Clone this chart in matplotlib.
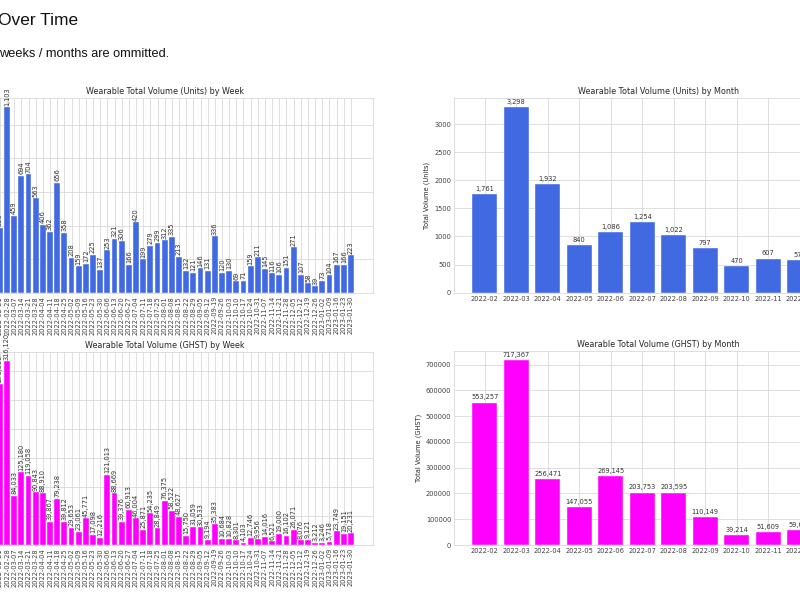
import matplotlib
matplotlib.use("Agg")
import matplotlib.pyplot as plt
from matplotlib.ticker import MultipleLocator
import seaborn as sns

sns.set_style("whitegrid")

# weekly data (first week only partly visible in the crop)
weeks = ["2022-02-21", "2022-02-28", "2022-03-07", "2022-03-14", "2022-03-21", "2022-03-28",
         "2022-04-04", "2022-04-11", "2022-04-18", "2022-04-25", "2022-05-02", "2022-05-09",
         "2022-05-16", "2022-05-23", "2022-05-30", "2022-06-06", "2022-06-13", "2022-06-20",
         "2022-06-27", "2022-07-04", "2022-07-11", "2022-07-18", "2022-07-25", "2022-08-01",
         "2022-08-08", "2022-08-15", "2022-08-22", "2022-08-29", "2022-09-05", "2022-09-12",
         "2022-09-19", "2022-09-26", "2022-10-03", "2022-10-10", "2022-10-17", "2022-10-24",
         "2022-10-31", "2022-11-07", "2022-11-14", "2022-11-21", "2022-11-28", "2022-12-05",
         "2022-12-12", "2022-12-19", "2022-12-26", "2023-01-02", "2023-01-09", "2023-01-16",
         "2023-01-23", "2023-01-30"]
weekly_units = [386, 1103, 459, 694, 704, 563, 406, 362, 656, 358, 208, 159, 172, 225, 137,
                253, 321, 306, 166, 420, 199, 279, 299, 312, 335, 213, 132, 121, 146, 131,
                336, 120, 130, 69, 71, 159, 211, 145, 116, 106, 151, 271, 107, 58, 39, 73,
                104, 167, 166, 223]
weekly_ghst = [276900, 316120, 84033, 125180, 119058, 90843, 88910, 39867, 79238, 39812,
               29653, 23061, 45771, 17098, 12216, 121013, 88669, 39376, 60913, 46004,
               25871, 54235, 28849, 76375, 58522, 48627, 15750, 31059, 30533, 9194, 35383,
               10684, 10828, 8301, 4103, 12746, 9956, 14016, 6521, 19000, 16102, 26071,
               8076, 9121, 3212, 3246, 5718, 23749, 19151, 20231]

# monthly data (later months fall outside the crop)
months = ["2022-02", "2022-03", "2022-04", "2022-05", "2022-06", "2022-07", "2022-08",
          "2022-09", "2022-10", "2022-11", "2022-12"]
monthly_units = [1761, 3298, 1932, 840, 1086, 1254, 1022, 797, 470, 607, 579]
monthly_ghst = [553257, 717367, 256471, 147055, 269145, 203753, 203595, 110149, 39214,
                51609, 59650]

BLUE = "#4169E1"
PINK = "#FF00FF"
FS = 4.75
W, H = 800, 600

fig = plt.figure(figsize=(8, 6), dpi=100)


def px_rect(l, t, r, b):
    return [l / W, 1 - b / H, (r - l) / W, (b - t) / H]


def style(ax, title):
    ax.set_title(title, fontsize=5.8, pad=2.6, color=".15")
    ax.tick_params(length=0, pad=2.2, labelsize=FS, colors=".25")
    ax.grid(True, color=".85", lw=0.6)
    for s in ax.spines.values():
        s.set_color(".85")
        s.set_linewidth(0.6)
    ax.set_axisbelow(True)


def weekly(ax, vals, color, title, step, ylabel):
    x = list(range(len(weeks)))
    bars = ax.bar(x, vals, width=0.8, color=color, edgecolor="white", linewidth=0.3)
    ax.bar_label(bars, labels=[f"{v:,}" for v in vals], rotation=90, padding=1.2,
                 fontsize=FS, color=".2")
    ax.set_xticks(x)
    ax.set_xticklabels(weeks, rotation=90)
    ax.set_xlim(-6.05, 52.03)
    ax.yaxis.set_major_locator(MultipleLocator(step))
    ax.set_ylabel(ylabel, fontsize=FS)
    style(ax, title)


def monthly(ax, vals, color, title, step, ylabel):
    x = list(range(len(months)))
    bars = ax.bar(x, vals, width=0.8, color=color, edgecolor="white", linewidth=0.3)
    ax.bar_label(bars, labels=[f"{v:,}" for v in vals], padding=1.5, fontsize=FS, color=".2")
    ax.set_xticks(x)
    ax.set_xticklabels(months)
    ax.set_xlim(-0.97, 11.99)
    ax.yaxis.set_major_locator(MultipleLocator(step))
    ax.set_ylabel(ylabel, fontsize=FS, labelpad=3, color=".15")
    style(ax, title)


ax1 = fig.add_axes(px_rect(-43.5, 98, 372.7, 293))
weekly(ax1, weekly_units, BLUE, "Wearable Total Volume (Units) by Week", 200, "Total Volume (Units)")

ax2 = fig.add_axes(px_rect(454.3, 98, 862.4, 292.7))
monthly(ax2, monthly_units, BLUE, "Wearable Total Volume (Units) by Month", 500, "Total Volume (Units)")

ax3 = fig.add_axes(px_rect(-43.5, 352, 372.7, 545))
weekly(ax3, weekly_ghst, PINK, "Wearable Total Volume (GHST) by Week", 50000, "Total Volume (GHST)")

ax4 = fig.add_axes(px_rect(454.3, 351, 862.4, 545))
monthly(ax4, monthly_ghst, PINK, "Wearable Total Volume (GHST) by Month", 100000, "Total Volume (GHST)")

# page text around the figure (cut at the left edge)
fig.text(-2 / W, 1 - 25 / H, "Over Time", fontsize=12.5, family="Liberation Sans",
         color="#111111", va="baseline")
fig.text(-1 / W, 1 - 56.7 / H, "weeks / months are ommitted.", fontsize=9.2,
         family="Liberation Sans", color="#111111", va="baseline")

fig.savefig("out.png", dpi=100)
